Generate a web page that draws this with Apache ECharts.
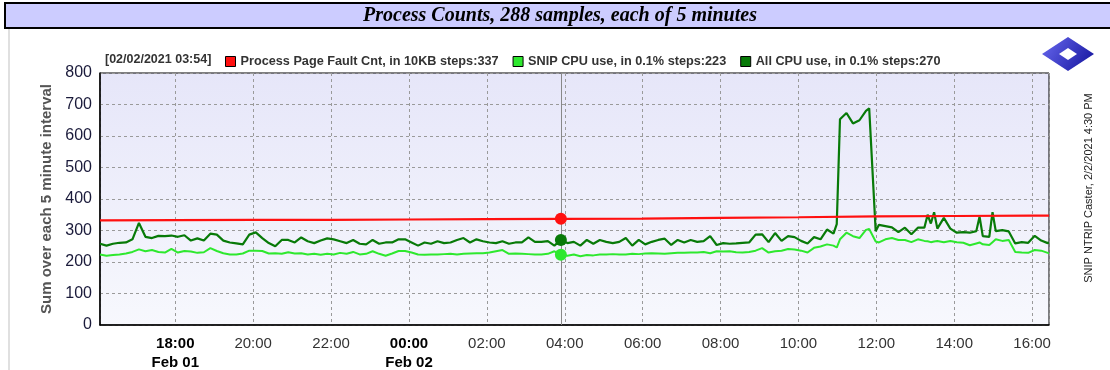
<!DOCTYPE html>
<html><head><meta charset="utf-8">
<script src="https://cdn.jsdelivr.net/npm/echarts@6/dist/echarts.min.js"></script>
<style>html,body{margin:0;padding:0;background:#fff;overflow:hidden}#c{width:1110px;height:370px}</style>
</head><body><div id="c"></div>
<script>
// Sample times (Feb 01 16:04 -> Feb 02 16:26)
const times = [
'16:04','16:14','16:24','16:34','16:44','16:54','17:04','17:14','17:24','17:34','17:44','17:54',
'18:04','18:14','18:24','18:34','18:44','18:54','19:04','19:14','19:24','19:34','19:44','19:54',
'20:04','20:14','20:24','20:34','20:44','20:54','21:04','21:14','21:24','21:34','21:44','21:54',
'22:04','22:14','22:24','22:34','22:44','22:54','23:04','23:14','23:24','23:34','23:44','23:54',
'00:04','00:14','00:24','00:34','00:44','00:54','01:04','01:14','01:24','01:34','01:44','01:54',
'02:04','02:14','02:24','02:34','02:44','02:54','03:04','03:14','03:24','03:34','03:44','03:54',
'04:04','04:14','04:24','04:34','04:44','04:54','05:04','05:14','05:24','05:34','05:44','05:54',
'06:04','06:14','06:24','06:34','06:44','06:54','07:04','07:14','07:24','07:34','07:44','07:54',
'08:04','08:14','08:24','08:34','08:44','08:54','09:04','09:14','09:24','09:34','09:44','09:54',
'10:04','10:14','10:24','10:34','10:44','10:54','10:59','11:04','11:14','11:24','11:34','11:44','11:49','11:59',
'12:04','12:14','12:24','12:34','12:44','12:54','13:04','13:14','13:19','13:24','13:29','13:34','13:44','13:54',
'14:04','14:14','14:24','14:34','14:39','14:44','14:54','14:59','15:04','15:14','15:24','15:34','15:44','15:54',
'16:04','16:14','16:24','16:26'
];
const allCpu = [
258,252,258,261,262,272,324,280,276,283,282,284,
280,285,268,275,268,290,287,268,262,259,256,287,
294,276,260,250,270,270,262,278,266,260,268,275,
272,266,260,270,258,256,270,258,262,262,272,272,
262,252,262,258,266,260,262,270,276,262,272,266,
262,260,266,258,262,262,278,264,264,266,252,270,
260,264,252,270,258,270,264,260,264,276,252,270,
256,264,270,274,254,270,262,270,264,266,282,254,
260,258,259,261,262,287,288,263,292,267,282,279,
267,259,279,272,303,290,320,653,673,640,650,680,688,298,
318,314,310,295,309,288,309,309,350,322,358,306,340,306,
293,295,293,298,344,282,280,358,298,301,297,259,263,261,
283,268,260,262
];
const snipCpu = [
224,220,222,224,227,232,240,234,238,232,230,242,
230,235,233,229,231,244,235,228,224,224,227,236,
236,235,227,228,226,231,227,228,224,226,223,226,
224,229,226,232,224,226,234,226,220,227,235,235,
230,224,223,224,224,225,226,224,226,227,228,228,
230,234,238,226,227,226,225,224,224,226,234,223,
220,224,218,222,221,224,224,225,224,224,226,225,
227,228,227,226,228,229,229,230,230,232,228,234,
233,234,231,230,232,236,244,230,234,236,241,240,
236,230,245,249,256,252,246,272,293,282,276,302,305,265,
262,272,276,270,270,263,272,267,266,263,265,267,263,267,
263,261,253,259,262,256,254,263,272,267,270,232,230,229,
238,236,229,228
];
const faultTimes = ['16:04','18:00','20:00','22:00','00:00','02:00','03:54','06:00','08:00','10:00','12:00','14:00','16:00','16:26'];
const pageFault  = [332,333,334,334,335,336,337,338,340,342,345,346,347,347];
const cursorTime = '03:54';
const cursorLabel = '[02/02/2021 03:54]';
const seriesNames = ['Process Page Fault Cnt, in 10KB steps','SNIP CPU use, in 0.1% steps','All CPU use, in 0.1% steps'];
const yTicks = [0,100,200,300,400,500,600,700,800];
const dayLabels = {18:'Feb 01', 24:'Feb 02'};
const titleText = 'Process Counts, 288 samples, each of 5 minutes';
const sideText = 'SNIP NTRIP Caster, 2/2/2021 4:30 PM';

// hours counted from Feb 01 00:00; the list rolls over midnight once
function toHours(list){
  let day = 0, prev = -1;
  return list.map(s => {
    const p = s.split(':'); const m = (+p[0])*60 + (+p[1]);
    if (m < prev) day += 24;
    prev = m;
    return day + m/60;
  });
}
const xs = toHours(times);
const fx = toHours(faultTimes);
const cursorX = fx[faultTimes.indexOf(cursorTime)];
const ci = times.indexOf(cursorTime);
const cursorVals = [pageFault[faultTimes.indexOf(cursorTime)], snipCpu[ci], allCpu[ci]];
const colors = ['#ff1010','#2ee82e','#087a08'];
const pair = (x, v) => x.map((t, i) => [t, v[i]]);

const chart = echarts.init(document.getElementById('c'), null, {renderer:'canvas'});
const mk = (k) => ({symbol:'circle', symbolSize:12, silent:true, label:{show:false},
  itemStyle:{color:colors[k]}, data:[{coord:[cursorX, cursorVals[k]]}]});
chart.setOption({
  animation:false,
  backgroundColor:'#fff',
  textStyle:{fontFamily:'"Liberation Sans", Arial, sans-serif'},
  grid:{left:100, right:61, top:73, bottom:44, show:true, borderColor:'#000', borderWidth:1,
    backgroundColor:new echarts.graphic.LinearGradient(0,0,0,1,[{offset:0,color:'#e6e6f9'},{offset:1,color:'#f7f8fd'}])},
  legend:{left:220, top:50, icon:'rect', itemWidth:10, itemHeight:10, itemGap:14,
    data:seriesNames,
    itemStyle:{borderColor:'#000', borderWidth:1},
    textStyle:{fontSize:12.7, fontWeight:'bold', color:'#333'},
    formatter: n => n + ':' + cursorVals[seriesNames.indexOf(n)]},
  xAxis:{type:'value', min:16+4/60, max:40+26/60, minInterval:2, maxInterval:2, splitNumber:12,
    axisLine:{lineStyle:{color:'#000', width:1.5}}, axisTick:{show:false},
    splitLine:{show:true, lineStyle:{color:'#9a9a9a', type:[3,3], width:1}},
    axisLabel:{margin:9, showMinLabel:false, showMaxLabel:false,
      formatter: v => {
        const r = Math.round(v);
        if (Math.abs(v-r) > 1e-6 || r % 2) return '';
        const h = r % 24; const s = (h<10?'0':'') + h + ':00';
        if (dayLabels[r]) return '{b|' + s + '}\n{b|' + dayLabels[r] + '}';
        return '{n|' + s + '}';
      },
      rich:{b:{fontSize:15, fontWeight:'bold', color:'#000', lineHeight:19},
            n:{fontSize:15, color:'#333', lineHeight:19}}}},
  yAxis:{type:'value', min:yTicks[0], max:yTicks[yTicks.length-1], interval:yTicks[1]-yTicks[0],
    name:'Sum over each 5 minute interval', nameLocation:'middle', nameGap:42,
    nameTextStyle:{fontSize:15, fontWeight:'bold', color:'#555'},
    axisLine:{show:true, lineStyle:{color:'#000', width:1.5}}, axisTick:{show:false},
    splitLine:{show:true, lineStyle:{color:'#9a9a9a', type:[3,3], width:1}},
    axisLabel:{fontSize:16, color:'#1a1a3a', margin:8}},
  series:[
    {name:seriesNames[1], type:'line', data:pair(xs, snipCpu), showSymbol:false, z:2,
     lineStyle:{width:2, color:colors[1]}, itemStyle:{color:colors[1]}, markPoint:mk(1)},
    {name:seriesNames[2], type:'line', data:pair(xs, allCpu), showSymbol:false, z:3,
     lineStyle:{width:2.2, color:colors[2]}, itemStyle:{color:colors[2]}, markPoint:mk(2)},
    {name:seriesNames[0], type:'line', data:pair(fx, pageFault), showSymbol:false, z:4,
     lineStyle:{width:2.2, color:colors[0]}, itemStyle:{color:colors[0]}, markPoint:mk(0),
     markLine:{silent:true, symbol:'none', label:{show:false}, lineStyle:{color:'#888', type:'solid', width:1},
       data:[{xAxis:cursorX}]}}
  ],
  graphic:[
    {type:'rect', shape:{x:5, y:3, width:1120, height:25}, style:{fill:'#ccccff', stroke:'#000', lineWidth:2}},
    {type:'text', x:560, y:16, style:{text:titleText, font:'italic bold 20px "Liberation Serif", serif', fill:'#000', align:'center', verticalAlign:'middle'}},
    {type:'line', shape:{x1:9, y1:29, x2:9, y2:370}, style:{stroke:'#e0e0e0', lineWidth:2}},
    {type:'text', x:105, y:60, style:{text:cursorLabel, font:'bold 12.5px "Liberation Sans", Arial, sans-serif', fill:'#333', align:'left', verticalAlign:'middle'}},
    {type:'polygon', shape:{points:[[1042,54],[1068,37],[1094,54],[1068,71]]},
     style:{fill:new echarts.graphic.LinearGradient(0,0,1,1,[{offset:0,color:'#6a6af0'},{offset:1,color:'#10109a'}])}},
    {type:'polygon', shape:{points:[[1059,54],[1068,48],[1077,54],[1068,60]]}, style:{fill:'#fff'}},
    {type:'text', x:1089, y:188, rotation:Math.PI/2, style:{text:sideText, font:'11px "Liberation Sans", Arial, sans-serif', fill:'#222', align:'center', verticalAlign:'middle'}}
  ]
});
</script></body></html>
